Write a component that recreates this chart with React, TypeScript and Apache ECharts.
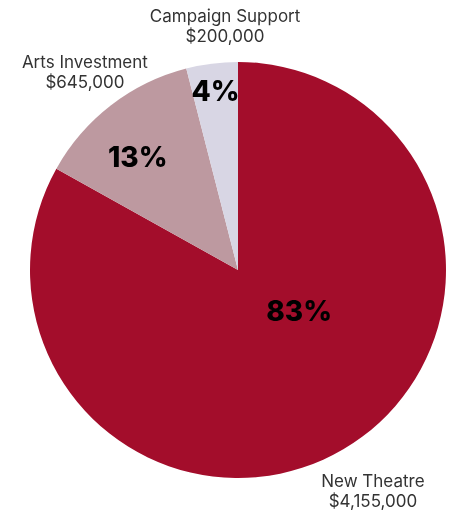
import React, { useEffect, useRef } from "react";
import * as echarts from "echarts";

const categories = ["New Theatre", "Arts Investment", "Campaign Support"];
const amounts = [4155000, 645000, 200000];
const colors = ["#A30D2B", "#BD99A0", "#D8D6E4"];

const fmtMoney = (v: number) => "$" + v.toLocaleString("en-US");

export default function App() {
  const ref = useRef<HTMLDivElement>(null);
  useEffect(() => {
    if (!ref.current) return;
    const chart = echarts.init(ref.current, null, { renderer: "svg" });
    const data = categories.map((name, i) => ({
      name,
      value: amounts[i],
      itemStyle: { color: colors[i] },
    }));
    const innerOffsets: number[][] = [
      [7, -51],
      [-35, -28],
      [-9, -73],
    ];
    const outerShift: number[][] = [
      [17, 29],
      [-12, -21],
      [20, -23],
    ];
    chart.setOption({
      animation: false,
      series: [
        {
          type: "pie",
          center: [238, 270],
          radius: [0, 208],
          startAngle: 90,
          clockwise: true,
          avoidLabelOverlap: false,
          silent: true,
          data,
          label: {
            show: true,
            position: "outside",
            formatter: (p: any) => p.name + "\n" + fmtMoney(p.value),
            fontFamily: "Inter, 'Open Sans', sans-serif",
            fontSize: 17,
            lineHeight: 20,
            color: "#333333",
          },
          labelLine: { show: false, length: 15, length2: 0 },
          labelLayout: (params: any) => ({
            align: "center",
            dx: outerShift[params.dataIndex][0],
            dy: outerShift[params.dataIndex][1],
          }),
        },
        {
          type: "pie",
          center: [238, 270],
          radius: [0, 208],
          startAngle: 90,
          clockwise: true,
          silent: true,
          percentPrecision: 0,
          data: categories.map((name, i) => ({
            name,
            value: amounts[i],
            itemStyle: { color: "rgba(0,0,0,0)" },
            label: { offset: innerOffsets[i] },
          })),
          label: {
            show: true,
            position: "inside",
            formatter: "{d}%",
            fontFamily: "Inter, sans-serif",
            fontWeight: 800,
            fontSize: 28,
            color: "#000000",
          },
          labelLine: { show: false },
        },
      ],
    });
    return () => chart.dispose();
  }, []);
  return (
    <div
      ref={ref}
      style={{ position: "fixed", left: 0, top: 0, width: 456, height: 512 }}
    />
  );
}
